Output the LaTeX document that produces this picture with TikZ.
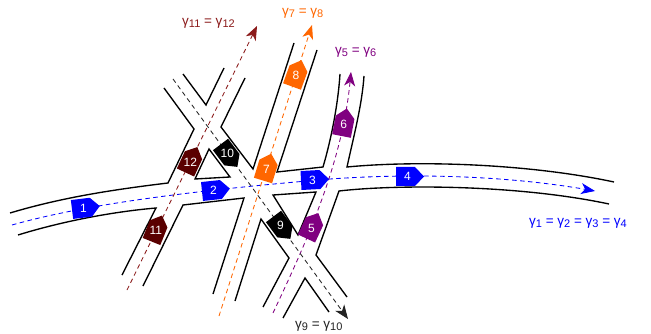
\documentclass[tikz,border=0pt]{standalone}
\usepackage{fontspec}
\setmainfont{Liberation Sans}
\usetikzlibrary{arrows.meta}
\definecolor{gblue}{RGB}{0,0,255}
\definecolor{gpurple}{RGB}{128,0,128}
\definecolor{gorange}{RGB}{255,102,0}
\definecolor{gmaroon}{RGB}{90,0,0}
\definecolor{gred}{RGB}{139,26,26}
\definecolor{gdark}{RGB}{35,35,35}
\tikzset{
  road/.style={draw=black,line width=1.35pt,line join=miter},
  flow/.style={line width=0.85pt,dash pattern=on 4.5pt off 3.5pt,
    -{Stealth[length=14pt,width=11pt,inset=4pt]}},
  marktext/.style={text=white,font=\fontsize{12}{12}\selectfont,inner sep=0pt},
  gamlabel/.style={font=\fontsize{13.5}{14}\selectfont,inner sep=0pt}
}
\newcommand{\gm}[1]{γ\raisebox{-0.35ex}{\fontsize{11}{11}\selectfont #1}}
% name, back-mid x, y, angle, colour, number
\newcommand{\mk}[6]{%
  \fill[#5,shift={(#2,#3)},rotate=#4,x=1pt,y=1pt]
    (0,-9.5)--(19,-9.5)--(28,0)--(19,9.5)--(0,9.5)--cycle;
  \node[marktext,shift={(#4:11.5pt)}] (#1) at (#2,#3) {#6};}
\begin{document}
\begin{tikzpicture}[x=1pt,y=-1pt]
\useasboundingbox (0,0) rectangle (651,334);
% roads
\draw[road] (10,213) .. controls (60,198) and (110,190) .. (168,183)
  -- (194,129) -- (164,88);
\draw[road] (183,74) -- (206,105) -- (224,68);
\draw[road] (245,78) -- (221,127) -- (253,169) -- (294,43);
\draw[road] (317,50) -- (277,172) -- (323,167)
  .. controls (331,140) and (338,105) .. (340,74);
\draw[road] (364,76) .. controls (362,105) and (354,135) .. (347,167)
  .. controls (420,160) and (530,164) .. (614,182);
\draw[road] (609,204) .. controls (520,185) and (400,184) .. (339,191)
  -- (316,255) -- (347,297);
\draw[road] (329,312) -- (305,278) -- (283,318);
\draw[road] (263,307) -- (289,258) -- (261,219) -- (235,301);
\draw[road] (213,294) -- (244,198) -- (183,205) -- (143,286);
\draw[road] (122,275) -- (156,208) .. controls (110,212) and (60,222) .. (18,235);
\draw[road] (209,149) -- (195,179) -- (230,177) -- cycle;
\draw[road] (273,195) -- (316,192) -- (298,235) -- cycle;
% flow lines
\coordinate (b0) at (12,225); \coordinate (b1) at (330,179); \coordinate (b2) at (595,191);
\coordinate (r0) at (127,290); \coordinate (r1) at (257,26);
\coordinate (o0) at (219,316); \coordinate (o1) at (312,25);
\coordinate (p0) at (273,313); \coordinate (p1) at (351,72);
\coordinate (k0) at (173,79); \coordinate (k1) at (348,319);
\draw[flow,gblue] (b0) .. controls (90,203) and (200,190) .. (b1)
  .. controls (430,172) and (520,178) .. (b2);
\draw[flow,gred] (r0) -- (r1);
\draw[flow,gorange] (o0) -- (o1);
\draw[flow,gpurple] (p0) .. controls (305,245) and (342,165) .. (p1);
\draw[flow,gdark] (k0) -- (k1);
% markers
\mk{m1}{72}{209.5}{7}{gblue}{1}
\mk{m2}{202}{191.5}{6}{gblue}{2}
\mk{m3}{301}{180.5}{3}{gblue}{3}
\mk{m4}{396}{176.5}{0}{gblue}{4}
\mk{m5}{306.5}{238.5}{65}{gpurple}{5}
\mk{m6}{341.5}{136}{79}{gpurple}{6}
\mk{m7}{263}{180.5}{73}{gorange}{7}
\mk{m8}{292}{86.5}{70}{gorange}{8}
\mk{m9}{273.5}{216.5}{-53}{black}{9}
\mk{m10}{220.5}{144.5}{-53}{black}{10}
\mk{m11}{151.5}{241.5}{68}{gmaroon}{11}
\mk{m12}{185.5}{172.5}{65}{gmaroon}{12}
% labels
\node[gamlabel,text=gred,anchor=west] (l11) at (182,23) {\gm{11} = \gm{12}};
\node[gamlabel,text=gorange,anchor=west] (l7) at (282,13) {\gm{7} = \gm{8}};
\node[gamlabel,text=gpurple,anchor=west] (l5) at (335,52) {\gm{5} = \gm{6}};
\node[gamlabel,text=gdark,anchor=west] (l9) at (295,326) {\gm{9} = \gm{10}};
\node[gamlabel,text=gblue,anchor=west] (l1) at (529,223) {\gm{1} = \gm{2} = \gm{3} = \gm{4}};
\end{tikzpicture}
\end{document}
